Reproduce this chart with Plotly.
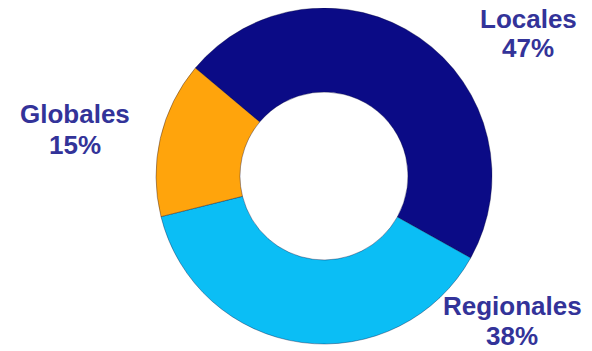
import plotly.graph_objects as go

categories = ["Locales", "Regionales", "Globales"]
values = [47, 38, 15]
colors = ["#0B0B86", "#0BBEF5", "#FFA40C"]

# label positions in screen pixels (layout only): (x center, y of line1 middle, y of line2 middle)
label_pos = {
    "Locales": (528, 19, 48),
    "Regionales": (512, 306, 336),
    "Globales": (75, 114, 145),
}

# page body has an 8px margin; size the figure so it fits the 592x351 window
OFF = 8
W, H = 592 - OFF, 351 - OFF


def px(x):
    return (x - OFF) / W


def py(y):
    return 1 - (y - OFF) / H


fig = go.Figure()
fig.add_trace(go.Pie(
    labels=categories,
    values=values,
    hole=0.50,
    sort=False,
    direction="clockwise",
    rotation=-50,
    marker=dict(colors=colors, line=dict(color="rgba(0,0,50,0.35)", width=1)),
    textinfo="none",
    hoverinfo="label+percent",
    showlegend=False,
    domain=dict(x=[px(156), px(492)], y=[max(0, py(344)), min(1, py(8))]),
))

for cat, val in zip(categories, values):
    x, y1, y2 = label_pos[cat]
    for txt, yy in ((cat, y1), (f"{val}%", y2)):
        fig.add_annotation(
            x=px(x), y=py(yy), xref="paper", yref="paper",
            text=f"<b>{txt}</b>", showarrow=False,
            xanchor="center", yanchor="middle",
            font=dict(family="Liberation Sans, Arial, sans-serif", size=26, color="#333399"),
        )

fig.update_layout(
    width=W, height=H,
    margin=dict(l=0, r=0, t=0, b=0),
    paper_bgcolor="white", plot_bgcolor="white",
)

fig.write_html("out.html")
